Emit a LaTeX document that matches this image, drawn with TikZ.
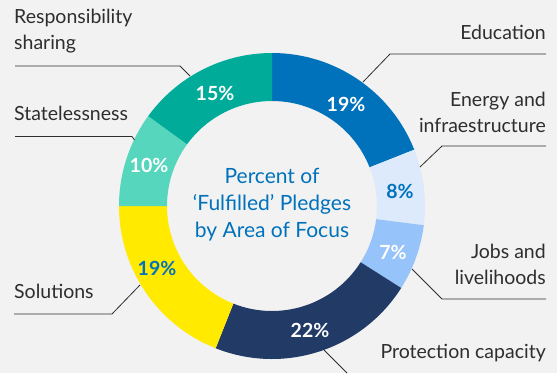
\documentclass[tikz,border=0pt]{standalone}
\usepackage{fontspec}
\setmainfont{Lato}
\definecolor{bgc}{HTML}{F2F2F2}
\definecolor{txtc}{HTML}{2E2E2E}
\definecolor{educ}{HTML}{0072BC}
\definecolor{enec}{HTML}{DCEAFC}
\definecolor{jobc}{HTML}{96C3F9}
\definecolor{proc}{HTML}{213A66}
\definecolor{solc}{HTML}{FFEA00}
\definecolor{stac}{HTML}{56D6BD}
\definecolor{resc}{HTML}{00AB9A}
\begin{document}
\begin{tikzpicture}[x=1pt,y=1pt,
lbl/.style={font=\fontsize{19.5}{26}\selectfont,text=txtc,inner sep=0pt},
mid/.style={font=\fontsize{21}{27}\selectfont,text=educ,inner sep=0pt},
pct/.style={font=\fontsize{19.5}{21}\selectfont\bfseries,inner sep=0pt},
lead/.style={draw=txtc,line width=0.8pt}]
\def\cx{272};
\def\cy{167};
\def\ro{153};
\def\ri{105};
\useasboundingbox (0,0) rectangle (557,373);
\fill[bgc] (0,0) rectangle (557,373);
\begin{scope}[shift={(\cx,\cy)}]
\fill[educ] (90:\ro) arc (90:21.6:\ro) -- (21.6:\ri) arc (21.6:90:\ri) -- cycle;
\fill[enec] (21.6:\ro) arc (21.6:-7.2:\ro) -- (-7.2:\ri) arc (-7.2:21.6:\ri) -- cycle;
\fill[jobc] (-7.2:\ro) arc (-7.2:-32.4:\ro) -- (-32.4:\ri) arc (-32.4:-7.2:\ri) -- cycle;
\fill[proc] (-32.4:\ro) arc (-32.4:-111.6:\ro) -- (-111.6:\ri) arc (-111.6:-32.4:\ri) -- cycle;
\fill[solc] (-111.6:\ro) arc (-111.6:-180:\ro) -- (-180:\ri) arc (-180:-111.6:\ri) -- cycle;
\fill[stac] (180:\ro) arc (180:144:\ro) -- (144:\ri) arc (144:180:\ri) -- cycle;
\fill[resc] (144:\ro) arc (144:90:\ro) -- (90:\ri) arc (90:144:\ri) -- cycle;
\node[pct,text=white] (p-edu) at (74,102) {19\%};
\node[pct,text=educ] (p-ene) at (128,15) {8\%};
\node[pct,text=white] (p-job) at (121,-46) {7\%};
\node[pct,text=white] (p-pro) at (38,-124) {22\%};
\node[pct,text=educ] (p-sol) at (-115,-62) {19\%};
\node[pct,text=white] (p-sta) at (-123,41) {10\%};
\node[pct,text=white] (p-res) at (-57,113) {15\%};
\node[mid,align=center] (title) at (0,1) {Percent of\\‘Fulfilled’ Pledges\\by Area of Focus};
\end{scope}
\node[lbl,anchor=west,align=left] (l-res) at (14,342) {Responsibility\\sharing};
\node[lbl,anchor=west] (l-sta) at (14,260) {Statelessness};
\node[lbl,anchor=west] (l-sol) at (14,82) {Solutions};
\node[lbl,anchor=east] (l-edu) at (546,341) {Education};
\node[lbl,anchor=east,align=right] (l-ene) at (546,261) {Energy and\\infraestructure};
\node[lbl,anchor=east,align=right] (l-job) at (546,109) {Jobs and\\livelihoods};
\node[lbl,anchor=east] (l-pro) at (546,20) {Protection capacity};
\coordinate (res-a) at (15,307);
\coordinate (res-b) at (180,307);
\coordinate (res-c) at (190,297);
\coordinate (sta-a) at (15,236.5);
\coordinate (sta-b) at (132,236.5);
\coordinate (sta-c) at (134.5,233);
\coordinate (sol-a) at (14,59);
\coordinate (sol-b) at (112,59);
\coordinate (sol-c) at (140,88);
\coordinate (edu-a) at (546,319);
\coordinate (edu-b) at (390,319);
\coordinate (edu-c) at (363,291);
\coordinate (ene-a) at (546,227);
\coordinate (ene-b) at (442,227);
\coordinate (ene-c) at (420,206);
\coordinate (job-a) at (546,74);
\coordinate (job-b) at (442,74);
\coordinate (job-c) at (412,104);
\coordinate (pro-b) at (347,0);
\coordinate (pro-c) at (324,23);
\draw[lead] (res-a) -- (res-b) -- (res-c);
\draw[lead] (sta-a) -- (sta-b) -- (sta-c);
\draw[lead] (sol-a) -- (sol-b) -- (sol-c);
\draw[lead] (edu-a) -- (edu-b) -- (edu-c);
\draw[lead] (ene-a) -- (ene-b) -- (ene-c);
\draw[lead] (job-a) -- (job-b) -- (job-c);
\draw[lead] (pro-b) -- (pro-c);
\end{tikzpicture}
\end{document}
